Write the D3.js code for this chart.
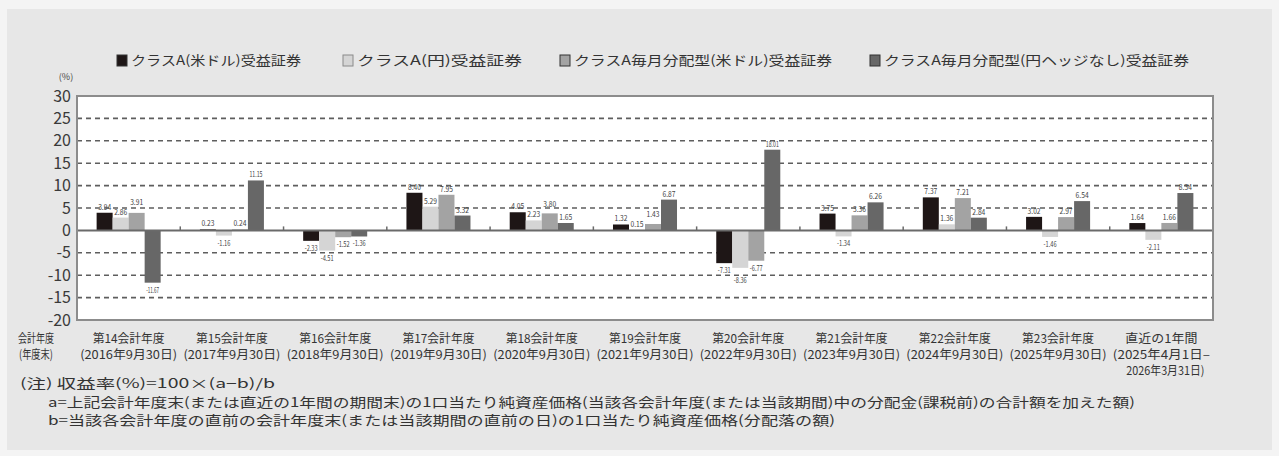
<!DOCTYPE html>
<html><head><meta charset="utf-8">
<script src="https://cdn.jsdelivr.net/npm/d3@7"></script>
<style>
html,body{margin:0;padding:0;background:#f4f4f4;}
svg{display:block;}
text{font-family:"Noto Sans CJK JP","Noto Sans",sans-serif;}
</style></head>
<body>
<svg id="chart" width="1279" height="456"></svg>
<script>
// ---- data ----
const categoriesLine1 = ["第14会計年度","第15会計年度","第16会計年度","第17会計年度","第18会計年度","第19会計年度","第20会計年度","第21会計年度","第22会計年度","第23会計年度","直近の1年間"];
const categoriesLine2 = ["(2016年9月30日)","(2017年9月30日)","(2018年9月30日)","(2019年9月30日)","(2020年9月30日)","(2021年9月30日)","(2022年9月30日)","(2023年9月30日)","(2024年9月30日)","(2025年9月30日)","(2025年4月1日–"];
const categoriesLine3 = ["","","","","","","","","","","2026年3月31日)"];
const seriesNames = ["クラスA(米ドル)受益証券","クラスA(円)受益証券","クラスA毎月分配型(米ドル)受益証券","クラスA毎月分配型(円ヘッジなし)受益証券"];
const classUsd   = [3.94, 0.23, -2.33, 8.40, 4.05, 1.32, -7.31, 3.75, 7.37, 3.02, 1.64];
const classJpy   = [2.86, -1.16, -4.51, 5.29, 2.23, 0.15, -8.36, -1.34, 1.36, -1.46, -2.11];
const monthlyUsd = [3.91, 0.24, -1.52, 7.95, 3.80, 1.43, -6.77, 3.36, 7.21, 2.97, 1.66];
const monthlyJpy = [-11.67, 11.15, -1.36, 3.32, 1.65, 6.87, 18.01, 6.26, 2.84, 6.54, 8.34];
const yTicks = [30,25,20,15,10,5,0,-5,-10,-15,-20];
const noteLines = ["(注) 収益率(%)=100×(a−b)/b",
  "a=上記会計年度末(または直近の1年間の期間末)の1口当たり純資産価格(当該各会計年度(または当該期間)中の分配金(課税前)の合計額を加えた額)",
  "b=当該各会計年度の直前の会計年度末(または当該期間の直前の日)の1口当たり純資産価格(分配落の額)"];

const seriesValues = [classUsd, classJpy, monthlyUsd, monthlyJpy];
const colors = ["#1e1616","#d5d5d5","#a3a3a3","#676767"];

const svg = d3.select("#chart");
svg.append("rect").attr("x",7).attr("y",9).attr("width",1265).attr("height",441).attr("fill","#e7e7e7");

const L=77, R=1213, T=96, B=320;
const x0 = d3.scaleBand().domain(d3.range(categoriesLine1.length)).range([L,R]).padding(0);
const bw = x0.bandwidth();
const x1 = d3.scaleBand().domain(d3.range(4)).range([bw*0.19, bw*0.81]).padding(0);
const y = d3.scaleLinear().domain([-20,30]).range([B,T]);

// plot background
svg.append("rect").attr("x",L).attr("y",T).attr("width",R-L).attr("height",B-T).attr("fill","#ffffff");

// grid lines
svg.append("g").selectAll("line").data(yTicks.filter(v=>v!==30&&v!==-20&&v!==0)).join("line")
  .attr("x1",L).attr("x2",R).attr("y1",d=>y(d)).attr("y2",d=>y(d))
  .attr("stroke","#5e5e5e").attr("stroke-width",1.6).attr("stroke-dasharray","5,4");

// y axis labels
const yAxis = d3.axisLeft(y).tickValues(yTicks).tickSize(0).tickPadding(6).tickFormat(d=>d);
const gy = svg.append("g").attr("transform",`translate(${L},0)`).call(yAxis);
gy.select(".domain").remove();
gy.selectAll("text").attr("font-family","'Liberation Sans',Arial,sans-serif").attr("font-size",16).attr("fill","#3a3a3a");
svg.append("text").attr("x",66).attr("y",80).attr("font-size",9).attr("fill","#444").attr("text-anchor","middle").text("(%)");

// bars
const groups = svg.append("g").selectAll("g").data(d3.range(categoriesLine1.length)).join("g")
  .attr("transform",i=>`translate(${x0(i)},0)`);
groups.selectAll("rect").data(i=>seriesValues.map((s,k)=>({k,v:s[i]}))).join("rect")
  .attr("x",d=>x1(d.k)).attr("width",x1.bandwidth())
  .attr("y",d=>y(Math.max(0,d.v))).attr("height",d=>Math.abs(y(d.v)-y(0)))
  .attr("fill",d=>colors[d.k]);

// value labels; nudge away from the bar when neighbouring labels are staggered closely
function labelData(i){
  const arr = seriesValues.map((s,k)=>({k,v:s[i],ly: s[i]>=0 ? y(s[i])-3 : y(s[i])+10}));
  for(let k=1;k<arr.length;k++){
    const a=arr[k-1], b=arr[k];
    const dy = Math.abs(a.ly-b.ly);
    if(dy>=3 && dy<10 && (a.v<0)===(b.v<0)){
      if(b.v<0){ if(b.ly>a.ly) b.ly=a.ly+10; }
      else { if(b.ly<a.ly) b.ly=a.ly-10; }
    }
  }
  return arr;
}
groups.selectAll("text").data(labelData).join("text")
  .attr("x",d=>x1(d.k)+x1.bandwidth()/2)
  .attr("y",d=>d.ly)
  .attr("text-anchor","middle").attr("font-size",8).attr("fill","#444")
  .attr("font-family","'Liberation Sans',Arial,sans-serif")
  .attr("textLength",13).attr("lengthAdjust","spacingAndGlyphs")
  .text(d=>d.v.toFixed(2));

// zero line and ticks between groups
svg.append("line").attr("x1",L).attr("x2",R).attr("y1",y(0)).attr("y2",y(0)).attr("stroke","#6a6a6a").attr("stroke-width",2);
svg.append("g").selectAll("line").data(d3.range(1,categoriesLine1.length)).join("line")
  .attr("x1",i=>x0(i)).attr("x2",i=>x0(i)).attr("y1",y(0)-4).attr("y2",y(0))
  .attr("stroke","#6a6a6a").attr("stroke-width",1.5);

// plot border
svg.append("rect").attr("x",L).attr("y",T).attr("width",R-L).attr("height",B-T).attr("fill","none").attr("stroke","#8c8c8c").attr("stroke-width",2);

// x labels
const xAxis = d3.axisBottom(x0).tickSize(0).tickFormat("");
const gx = svg.append("g").attr("transform",`translate(0,${B})`).call(xAxis);
gx.select(".domain").remove();
gx.selectAll(".tick").each(function(i){
  const t = d3.select(this).append("text").attr("fill","#333").attr("font-size",12).attr("text-anchor","middle");
  t.append("tspan").attr("x",0).attr("y",23).attr("textLength",72).attr("lengthAdjust","spacingAndGlyphs").text(categoriesLine1[i]);
  t.append("tspan").attr("x",0).attr("y",39).attr("textLength",97).attr("lengthAdjust","spacingAndGlyphs").text(categoriesLine2[i]);
  if(categoriesLine3[i]) t.append("tspan").attr("x",4).attr("y",55).attr("textLength",78).attr("lengthAdjust","spacingAndGlyphs").text(categoriesLine3[i]);
});
svg.append("text").attr("x",36).attr("y",343).attr("text-anchor","middle").attr("font-size",12).attr("fill","#333")
  .attr("textLength",36).attr("lengthAdjust","spacingAndGlyphs").text("会計年度");
svg.append("text").attr("x",36).attr("y",359).attr("text-anchor","middle").attr("font-size",12).attr("fill","#333")
  .attr("textLength",34).attr("lengthAdjust","spacingAndGlyphs").text("(年度末)");

// legend
const legX = [117, 343, 560, 870];
const legW = [170, 165, 258, 305];
const leg = svg.append("g").selectAll("g").data(seriesNames).join("g")
  .attr("transform",(d,k)=>`translate(${legX[k]},55)`);
leg.append("rect").attr("width",10).attr("height",11).attr("fill",(d,k)=>colors[k])
  .attr("stroke",(d,k)=>k===1?"#8a8a8a":"#333").attr("stroke-width",1);
leg.append("text").attr("x",14).attr("y",10).attr("font-size",13).attr("fill","#333")
  .attr("textLength",(d,k)=>legW[k]).attr("lengthAdjust","spacingAndGlyphs").text(d=>d);

// notes
const noteX=[20,48,48], noteY=[388,407,425], noteW=[255,1087,787];
svg.append("g").selectAll("text").data(noteLines).join("text")
  .attr("x",(d,i)=>noteX[i]).attr("y",(d,i)=>noteY[i]).attr("font-size",13).attr("fill","#333")
  .attr("textLength",(d,i)=>noteW[i]).attr("lengthAdjust","spacingAndGlyphs").text(d=>d);
</script>
</body></html>
